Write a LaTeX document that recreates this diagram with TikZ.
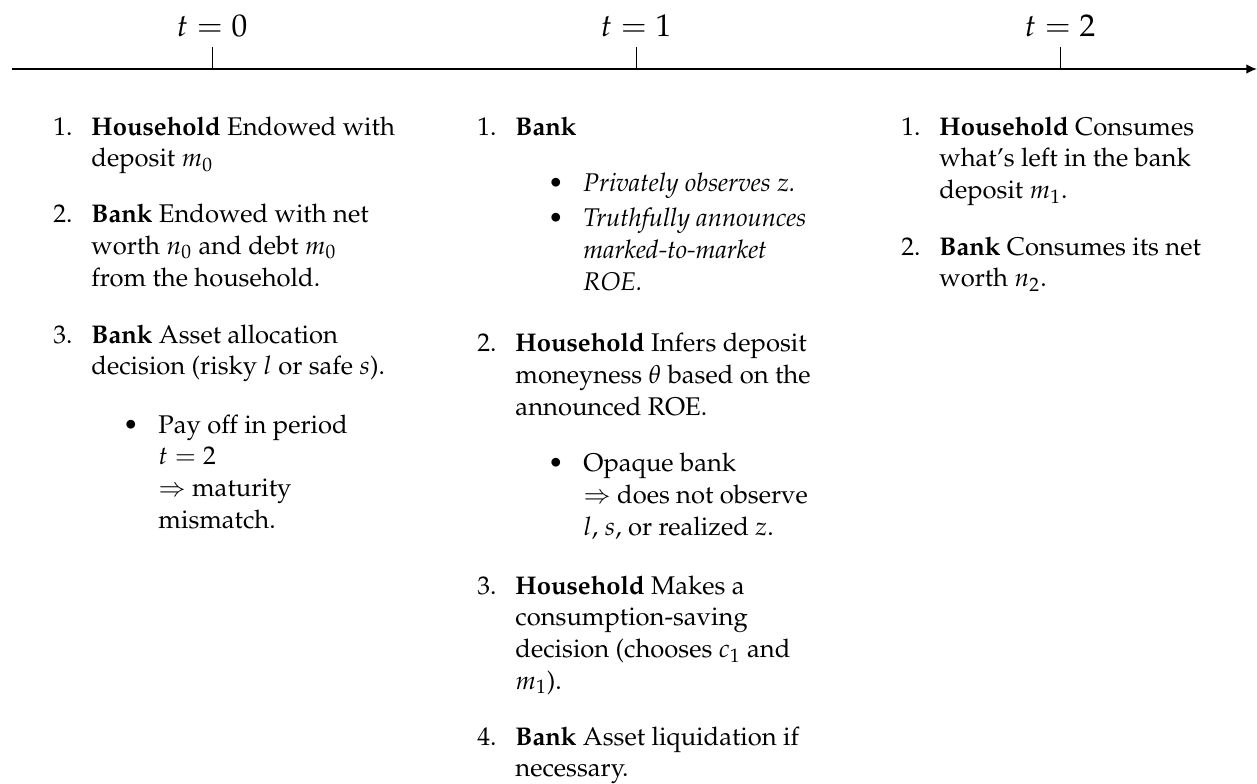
\documentclass[tikz,border=0pt]{standalone}
\usepackage[T1]{fontenc}
\usepackage{mathpazo}
\usetikzlibrary{arrows.meta}
\newcommand{\bodyfont}{\fontsize{11}{13.63}\selectfont}
\newcommand{\headfont}{\fontsize{13.5}{16}\selectfont}
\tikzset{
  body/.style={font=\bodyfont, inner sep=0pt, anchor=base west, align=left},
  itbody/.style={body, font=\bodyfont\itshape},
  lbl/.style={font=\bodyfont, inner sep=0pt, anchor=base east},
  bul/.style={font=\bodyfont, inner sep=0pt, anchor=base east},
  axisline/.style={line width=0.86pt, -{Latex[length=4.6pt,width=4.2pt]}},
  tickline/.style={line width=0.43pt},
  head/.style={font=\headfont, inner sep=0pt, anchor=base}
}
\begin{document}
\begin{tikzpicture}[x=0.43pt,y=-0.43pt]
\useasboundingbox (0,0) rectangle (1257,783);
% axis
\coordinate (axS) at (12,69);
\coordinate (axE) at (1257,69);
\draw[axisline] (axS) -- (axE);
\foreach \i/\x in {0/212,1/636,2/1060}{
  \coordinate (tk\i) at (\x,69);
  \coordinate (tt\i) at (\x,47);
  \draw[tickline] (tk\i) -- (tt\i);
  \node[head] (hd\i) at (\x,36) {$t=\i$};
}
% column 1 (body nodes are anchored at the baseline of their last line)
\node[lbl] (c1l1) at (73,135) {1.};
\node[body] (c1i1) at (91,166.7) {\textbf{Household} Endowed with\\ deposit $m_0$};
\node[lbl] (c1l2) at (73,222.7) {2.};
\node[body] (c1i2) at (91,286.1) {\textbf{Bank} Endowed with net\\ worth $n_0$ and debt $m_0$\\ from the household.};
\node[lbl] (c1l3) at (73,343) {3.};
\node[body] (c1i3) at (91,374.7) {\textbf{Bank} Asset allocation\\ decision (risky $l$ or safe $s$).};
\node[bul] (c1b1) at (139,433) {\textbullet};
\node[body] (c1n1) at (158,528.1) {Pay off in period\\ $t=2$\\ $\Rightarrow$ maturity\\ mismatch.};
% column 2
\node[lbl] (c2l1) at (497,135) {1.};
\node[body] (c2i1) at (515,135) {\textbf{Bank}};
\node[bul] (c2b1) at (564,191.7) {\textbullet};
\node[itbody] (c2n1) at (583,191.7) {Privately observes $z$.};
\node[bul] (c2b2) at (564,226.7) {\textbullet};
\node[itbody] (c2n2) at (583,290.1) {Truthfully announces\\ marked-to-market\\ ROE.};
\node[lbl] (c2l2) at (497,351.7) {2.};
\node[body] (c2i2) at (515,415.1) {\textbf{Household} Infers deposit\\ moneyness $\theta$ based on the\\ announced ROE.};
\node[bul] (c2b3) at (564,471.7) {\textbullet};
\node[body] (c2n3) at (583,535.1) {Opaque bank\\ $\Rightarrow$ does not observe\\ $l$, $s$, or realized $z$.};
\node[lbl] (c2l3) at (497,594) {3.};
\node[body] (c2i3) at (515,689.1) {\textbf{Household} Makes a\\ consumption-saving\\ decision (chooses $c_1$ and\\ $m_1$).};
\node[lbl] (c2l4) at (497,745) {4.};
\node[body] (c2i4) at (515,776.7) {\textbf{Bank} Asset liquidation if\\ necessary.};
% column 3
\node[lbl] (c3l1) at (921,135) {1.};
\node[body] (c3i1) at (939,198.4) {\textbf{Household} Consumes\\ what's left in the bank\\ deposit $m_1$.};
\node[lbl] (c3l2) at (921,255) {2.};
\node[body] (c3i2) at (939,286.7) {\textbf{Bank} Consumes its net\\ worth $n_2$.};
\end{tikzpicture}
\end{document}
